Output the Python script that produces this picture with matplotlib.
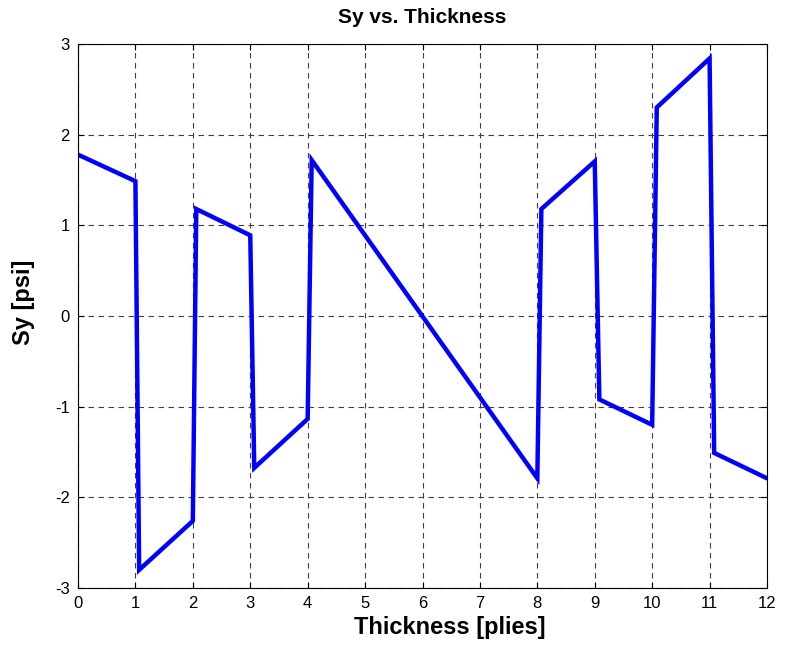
import numpy as np
import matplotlib
matplotlib.use("Agg")
import matplotlib.pyplot as plt

plt.rcParams["font.family"] = ["Liberation Sans", "DejaVu Sans"]
plt.rcParams["axes.unicode_minus"] = False

# through-thickness Sy, ply by ply (jump at every ply interface)
thick = [0, 1, 1.065, 2, 2.06, 3, 3.07, 4, 4.07, 8, 8.07, 9, 9.08, 10, 10.08, 11, 11.08, 12]
sy = [1.78, 1.487, -2.80, -2.26, 1.18, 0.89, -1.675, -1.135, 1.72, -1.79,
      1.18, 1.705, -0.92, -1.20, 2.30, 2.84, -1.51, -1.79]
xticks = list(range(0, 13))
yticks = [-3, -2, -1, 0, 1, 2, 3]

fig = plt.figure(figsize=(7.85, 6.51), dpi=100)
ax = fig.add_axes([78 / 785, 1 - 588 / 651, 689 / 785, 544 / 651])

ax.plot(thick, sy, color="#0000ff", lw=3.2, solid_joinstyle="miter")

ax.set_xlim(0, 12); ax.set_ylim(-3, 3)
ax.set_xticks(xticks); ax.set_yticks(yticks)
ax.grid(True, color="0.25", ls=(0, (5, 4)), lw=0.8)
ax.tick_params(direction="in", top=True, right=True, length=4, width=0.8,
               labelsize=12, pad=6)
for s in ax.spines.values():
    s.set_linewidth(0.8)

ax.set_title("Sy vs. Thickness", fontsize=15, fontweight="bold", pad=15)
ax.set_xlabel("Thickness [plies]", fontsize=17, fontweight="bold")
ax.set_ylabel("Sy [psi]", fontsize=17, fontweight="bold")
ax.xaxis.set_label_coords(0.54, -0.052)
ax.yaxis.set_label_coords(-0.062, 0.526)

fig.savefig("out.png", dpi=100)
